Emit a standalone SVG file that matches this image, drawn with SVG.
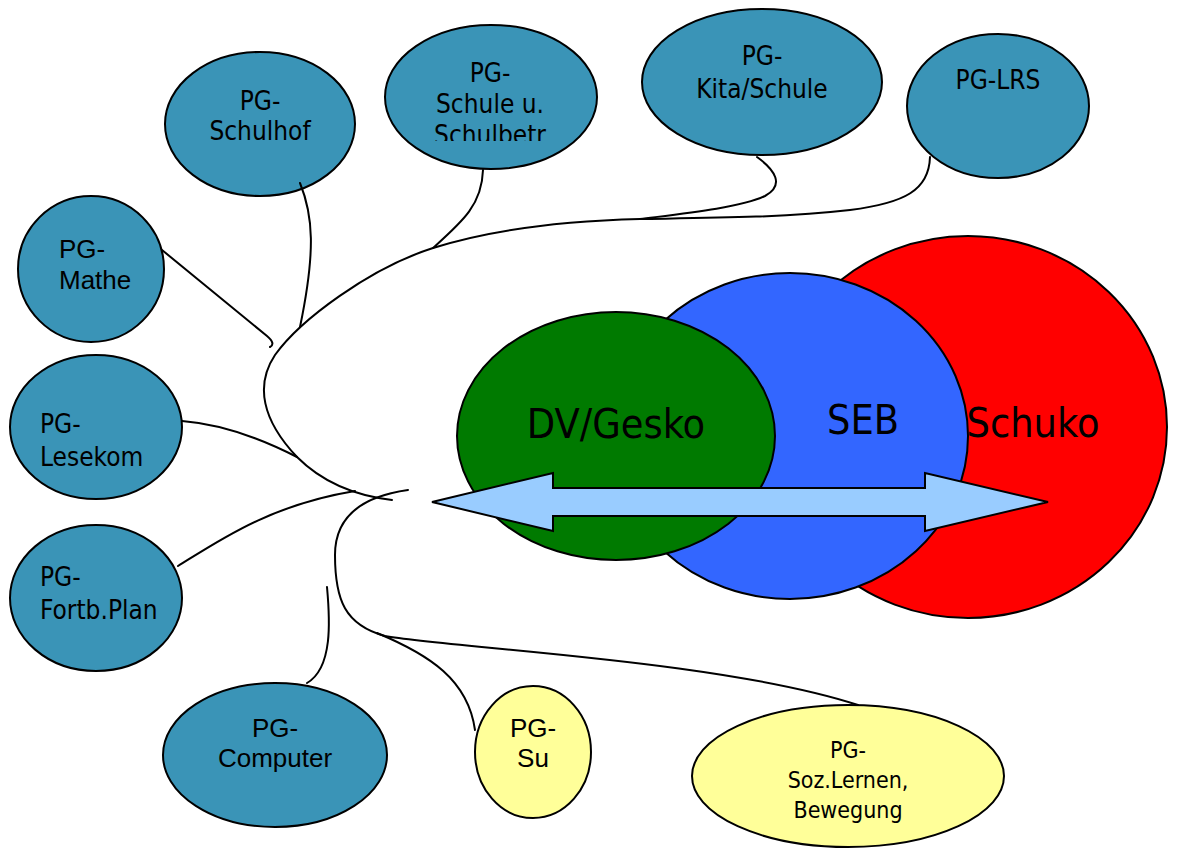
<svg xmlns="http://www.w3.org/2000/svg" width="1181" height="848" viewBox="0 0 1181 848">
<style>
.pg{fill:#3A94B7;stroke:#000;stroke-width:2}
.yl{fill:#FFFF99;stroke:#000;stroke-width:2}
.t{font-family:"DejaVu Sans Condensed","DejaVu Sans",sans-serif;font-stretch:condensed;font-size:26px;fill:#000}
.a{font-family:"Liberation Sans",Arial,sans-serif;font-size:26px;fill:#000}
.c{text-anchor:middle}
.big{font-family:"DejaVu Sans Condensed","DejaVu Sans",sans-serif;font-stretch:condensed;font-size:41px;fill:#000;text-anchor:middle}
.ln{fill:none;stroke:#000;stroke-width:2;stroke-linecap:round}
</style>
<defs>
<clipPath id="clipSchule"><rect x="380" y="20" width="220" height="121"/></clipPath>
</defs>
<rect width="1181" height="848" fill="#fff"/>
<g id="schuko"><ellipse cx="968" cy="427" rx="199" ry="191" fill="#FF0000" stroke="#000" stroke-width="2"/></g>
<g id="seb"><ellipse cx="790" cy="436" rx="178" ry="163" fill="#3366FF" stroke="#000" stroke-width="2"/></g>
<g id="dvgesko"><ellipse cx="616" cy="436" rx="159" ry="124" fill="#007A00" stroke="#000" stroke-width="2"/></g>
<g id="labels-big">
<text class="big" x="616" y="438">DV/Gesko</text>
<text class="big" x="863" y="434">SEB</text>
<text class="big" x="1033" y="437">Schuko</text>
</g>
<g id="arrow"><polygon points="432,502 553,473 553,488 925,488 925,473 1048,502 925,531 925,516 553,516 553,531" fill="#99CCFF" stroke="#000" stroke-width="2" stroke-linejoin="miter"/></g>
<g id="pg-schulhof"><ellipse class="pg" cx="260" cy="124" rx="95" ry="72"/><text class="t c" x="260" y="110">PG-</text><text class="t c" x="260" y="140">Schulhof</text></g>
<g id="pg-schule"><ellipse class="pg" cx="491" cy="97" rx="106" ry="72"/><g clip-path="url(#clipSchule)"><text class="t c" x="490" y="82">PG-</text><text class="t c" x="490" y="113">Schule u.</text><text class="t c" x="490" y="144">Schulbetr</text></g></g>
<g id="pg-kita"><ellipse class="pg" cx="762" cy="82" rx="120" ry="73"/><text class="t c" x="762" y="65">PG-</text><text class="t c" x="762" y="98">Kita/Schule</text></g>
<g id="pg-lrs"><ellipse class="pg" cx="998" cy="106" rx="91" ry="72"/><text class="t c" x="998" y="89">PG-LRS</text></g>
<g id="pg-mathe"><ellipse class="pg" cx="91" cy="269" rx="73" ry="73"/><text class="a" x="59" y="258">PG-</text><text class="a" x="59" y="289">Mathe</text></g>
<g id="pg-lesekom"><ellipse class="pg" cx="96" cy="427" rx="86" ry="72"/><text class="t" x="40" y="433">PG-</text><text class="t" x="40" y="466">Lesekom</text></g>
<g id="pg-fortb"><ellipse class="pg" cx="96" cy="598" rx="86" ry="73"/><text class="t" x="40" y="586">PG-</text><text class="t" x="40" y="619">Fortb.Plan</text></g>
<g id="pg-computer"><ellipse class="pg" cx="275" cy="755" rx="112" ry="72"/><text class="a c" x="275" y="737">PG-</text><text class="a c" x="275" y="767">Computer</text></g>
<g id="pg-su"><ellipse class="yl" cx="533" cy="752" rx="58" ry="66"/><text class="a c" x="533" y="737">PG-</text><text class="a c" x="533" y="767">Su</text></g>
<g id="pg-soz"><ellipse class="yl" cx="848" cy="776" rx="156" ry="71"/><text class="t c" x="848" y="758" style="font-size:23px">PG-</text><text class="t c" x="848" y="788" style="font-size:23px">Soz.Lernen,</text><text class="t c" x="848" y="818" style="font-size:23px">Bewegung</text></g>
<g id="connectors">
<path class="ln" d="M 930 157 C 929 190, 905 203, 850 210 C 780 218, 700 218, 640 219 C 560 221, 490 230, 433 248 C 370 268, 300 320, 275 355 C 255 385, 262 420, 297 457 C 318 478, 350 495, 392 500"/>
<path class="ln" d="M 757 157 C 775 170, 785 185, 765 196 C 740 208, 680 214, 640 219"/>
<path class="ln" d="M 483 170 C 482 205, 462 222, 433 248"/>
<path class="ln" d="M 300 183 C 313 215, 316 250, 300 327"/>
<path class="ln" d="M 162 250 L 267 336 C 273 341, 274 345, 270 347"/>
<path class="ln" d="M 182 421 C 220 424, 260 438, 297 457"/>
<path class="ln" d="M 178 566 C 220 540, 270 505, 355 491"/>
<path class="ln" d="M 408 490 C 365 496, 335 515, 335 555 C 335 600, 345 625, 385 636 C 450 648, 720 660, 858 705"/>
<path class="ln" d="M 377 633 C 430 655, 468 680, 475 730"/>
<path class="ln" d="M 327 587 C 330 620, 333 668, 307 683"/>
</g>
</svg>
